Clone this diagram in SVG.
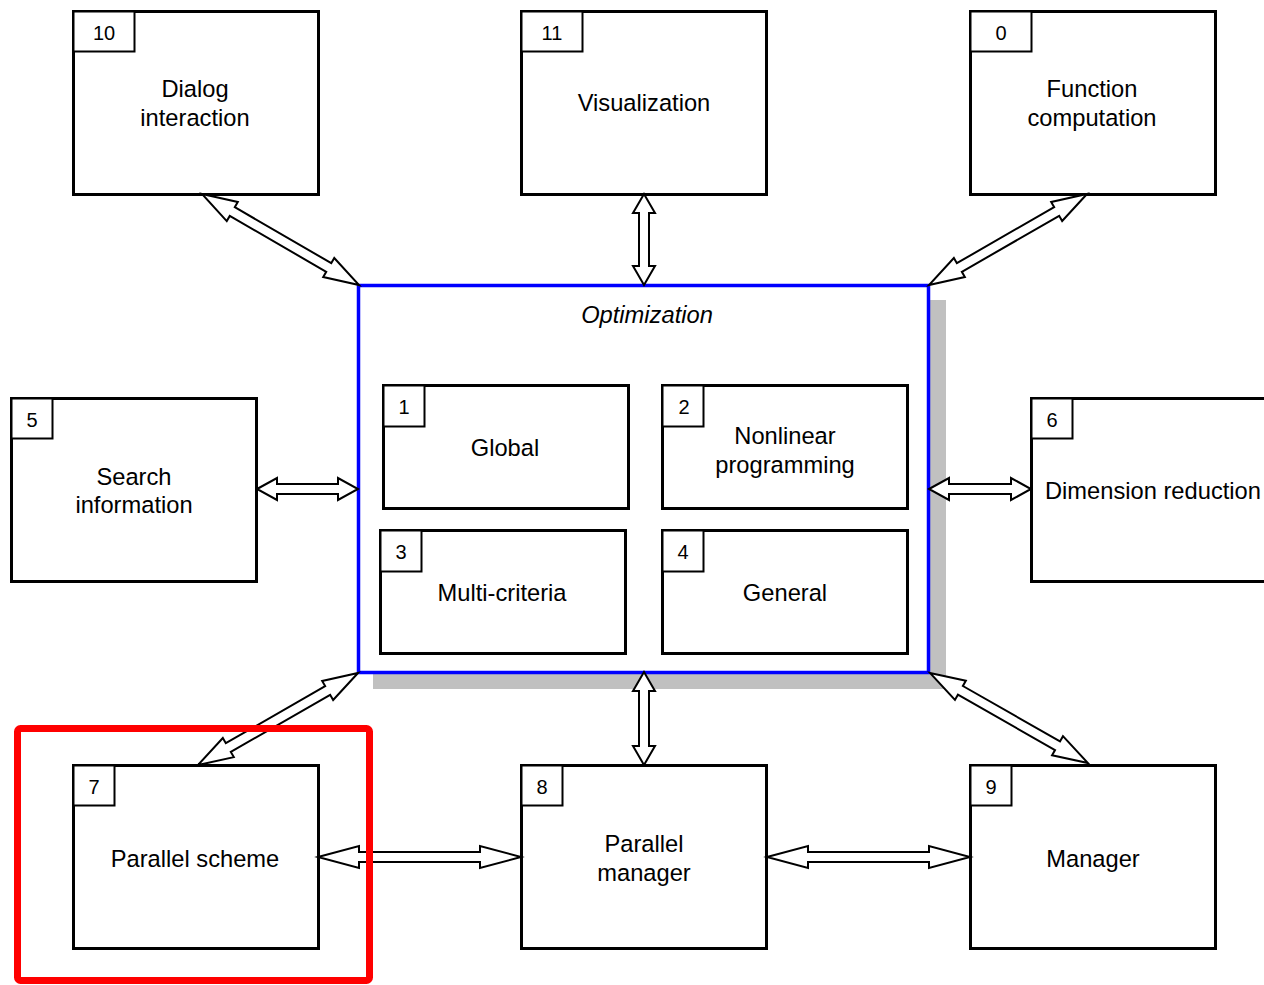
<svg xmlns="http://www.w3.org/2000/svg" width="1264" height="985" viewBox="0 0 1264 985">
<style>
.box{fill:#fff;stroke:#000;stroke-width:3}
.num{fill:#fff;stroke:#000;stroke-width:2}
.t{font-family:"Liberation Sans",Arial,sans-serif;font-size:23.7px;fill:#000;text-anchor:middle}
.n{font-family:"Liberation Sans",Arial,sans-serif;font-size:20px;fill:#000;text-anchor:middle}
.arr{fill:#fff;stroke:#000;stroke-width:2;stroke-linejoin:miter}
</style>
<rect width="1264" height="985" fill="#fff"/>
<g id="optimization">
<rect x="373" y="300" width="573" height="389" fill="#c0c0c0"/>
<rect x="358.5" y="285.5" width="570" height="387" fill="#fff" stroke="#0000ff" stroke-width="3.5"/>
<text class="t" x="647" y="323" font-style="italic">Optimization</text>
</g>
<g id="n1"><rect class="box" x="383.5" y="385.5" width="245" height="123"/><rect class="num" x="383.5" y="385.5" width="41" height="41"/><text class="n" x="404" y="414">1</text><text class="t" x="505" y="456">Global</text></g>
<g id="n2"><rect class="box" x="662.5" y="385.5" width="245" height="123"/><rect class="num" x="662.5" y="385.5" width="41" height="41"/><text class="n" x="684" y="414">2</text><text class="t" x="785" y="444">Nonlinear</text><text class="t" x="785" y="473">programming</text></g>
<g id="n3"><rect class="box" x="380.5" y="530.5" width="245" height="123"/><rect class="num" x="380.5" y="530.5" width="41" height="41"/><text class="n" x="401" y="559">3</text><text class="t" x="502" y="601">Multi-criteria</text></g>
<g id="n4"><rect class="box" x="662.5" y="530.5" width="245" height="123"/><rect class="num" x="662.5" y="530.5" width="41" height="41"/><text class="n" x="683" y="559">4</text><text class="t" x="785" y="601">General</text></g>

<g id="n10"><rect class="box" x="73.5" y="11.5" width="245" height="183"/><rect class="num" x="73.5" y="11.5" width="61" height="40"/><text class="n" x="104" y="40">10</text><text class="t" x="195" y="97">Dialog</text><text class="t" x="195" y="126">interaction</text></g>
<g id="n11"><rect class="box" x="521.5" y="11.5" width="245" height="183"/><rect class="num" x="521.5" y="11.5" width="61" height="40"/><text class="n" x="552" y="40">11</text><text class="t" x="644" y="111">Visualization</text></g>
<g id="n0"><rect class="box" x="970.5" y="11.5" width="245" height="183"/><rect class="num" x="970.5" y="11.5" width="61" height="40"/><text class="n" x="1001" y="40">0</text><text class="t" x="1092" y="97">Function</text><text class="t" x="1092" y="126">computation</text></g>
<g id="n5"><rect class="box" x="11.5" y="398.5" width="245" height="183"/><rect class="num" x="11.5" y="398.5" width="41" height="40"/><text class="n" x="32" y="427">5</text><text class="t" x="134" y="485">Search</text><text class="t" x="134" y="513">information</text></g>
<g id="n6"><rect class="box" x="1031.5" y="398.5" width="260" height="183"/><rect class="num" x="1031.5" y="398.5" width="41" height="40"/><text class="n" x="1052" y="427">6</text><text class="t" x="1045" y="499" style="text-anchor:start">Dimension reduction</text></g>
<g id="n7"><rect class="box" x="73.5" y="765.5" width="245" height="183"/><rect class="num" x="73.5" y="765.5" width="41" height="40"/><text class="n" x="94" y="794">7</text><text class="t" x="195" y="867">Parallel scheme</text></g>
<g id="n8"><rect class="box" x="521.5" y="765.5" width="245" height="183"/><rect class="num" x="521.5" y="765.5" width="41" height="40"/><text class="n" x="542" y="794">8</text><text class="t" x="644" y="852">Parallel</text><text class="t" x="644" y="881">manager</text></g>
<g id="n9"><rect class="box" x="970.5" y="765.5" width="245" height="183"/><rect class="num" x="970.5" y="765.5" width="41" height="40"/><text class="n" x="991" y="794">9</text><text class="t" x="1093" y="867">Manager</text></g>

<g id="connectors">
<polygon class="arr" transform="translate(202,194) rotate(30.1)" points="0,0 35,-11 35,-5 146.5,-5 146.5,-11 181.5,0 146.5,11 146.5,5 35,5 35,11"/>
<polygon class="arr" transform="translate(644,194) rotate(90)" points="0,0 19,-11 19,-5 72,-5 72,-11 91,0 72,11 72,5 19,5 19,11"/>
<polygon class="arr" transform="translate(1087,194) rotate(150.06)" points="0,0 35,-11 35,-5 147.3,-5 147.3,-11 182.3,0 147.3,11 147.3,5 35,5 35,11"/>
<polygon class="arr" transform="translate(257,489)" points="0,0 20,-11 20,-5 81,-5 81,-11 101,0 81,11 81,5 20,5 20,11"/>
<polygon class="arr" transform="translate(929,489)" points="0,0 20,-11 20,-5 82,-5 82,-11 102,0 82,11 82,5 20,5 20,11"/>
<polygon class="arr" transform="translate(358,673) rotate(150.1)" points="0,0 35,-11 35,-5 149.6,-5 149.6,-11 184.6,0 149.6,11 149.6,5 35,5 35,11"/>
<polygon class="arr" transform="translate(644,672) rotate(90)" points="0,0 19,-11 19,-5 74,-5 74,-11 93,0 74,11 74,5 19,5 19,11"/>
<polygon class="arr" transform="translate(930,673) rotate(29.7)" points="0,0 35,-11 35,-5 146.8,-5 146.8,-11 181.8,0 146.8,11 146.8,5 35,5 35,11"/>
<polygon class="arr" transform="translate(318,857)" points="0,0 41,-11 41,-5 162,-5 162,-11 203,0 162,11 162,5 41,5 41,11"/>
<polygon class="arr" transform="translate(767,857)" points="0,0 41,-11 41,-5 162,-5 162,-11 203,0 162,11 162,5 41,5 41,11"/>
</g>
<rect id="highlight" x="17.5" y="728.5" width="352" height="252" rx="3" fill="none" stroke="#ff0000" stroke-width="7"/>
</svg>
